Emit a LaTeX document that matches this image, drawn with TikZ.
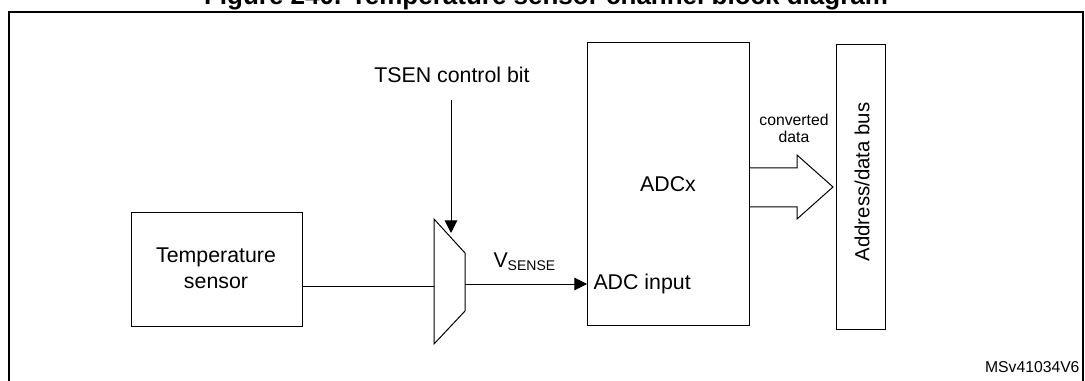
\documentclass[tikz,border=0pt]{standalone}
\usepackage{fontspec}
\setmainfont{Liberation Sans}
\usetikzlibrary{arrows.meta}
\begin{document}
\begin{tikzpicture}[x=0.75pt,y=-0.75pt,line width=0.75pt,
  blk/.style={draw,rectangle,inner sep=0pt,outer sep=0pt,anchor=north west},
  lbl/.style={font=\fontsize{16}{20}\selectfont,inner sep=0pt,align=center},
  small/.style={font=\fontsize{11.8}{14.3}\selectfont,inner sep=0pt,align=center},
  arr/.style={-{Triangle[length=9.5pt,width=9.5pt]}}]
\useasboundingbox (0,0) rectangle (1085,381);
% title (cut off at top) and frame
\node[font=\bfseries\fontsize{19.5}{22}\selectfont,anchor=base,inner sep=0pt] (title) at (546,5) {Figure 240. Temperature sensor channel block diagram};
\draw[line width=1.5pt] (9,420) -- (9,12) -- (1083,12) -- (1083,420);
% blocks
\node[blk,minimum width=128.25pt,minimum height=85.5pt] (ts) at (131,212) {};
\node[lbl] (tstext) at (216,268.5) {Temperature\\[-0.5pt]sensor};
\node[blk,minimum width=121.5pt,minimum height=211.5pt] (adc) at (587,43) {};
\node[lbl] (adcx) at (668,184) {ADCx};
\node[lbl,anchor=west] (adcinlbl) at (593,284) {ADC input};
\node[blk,minimum width=36.75pt,minimum height=213pt] (bus) at (836,45) {};
\node[lbl,rotate=90,font=\fontsize{15.3}{18}\selectfont] (bustext) at (862,182) {Address/data bus};
% multiplexer
\coordinate (m1) at (434,219);
\coordinate (m2) at (465,253);
\coordinate (m3) at (465,311);
\coordinate (m4) at (434,344);
\draw (m1) -- (m2) -- (m3) -- (m4) -- cycle;
% connectors
\coordinate (tsout) at (302,286);
\coordinate (muxin) at (434,286);
\draw (tsout) -- (muxin);
\coordinate (muxout) at (465,284);
\coordinate (adcin) at (587,284);
\draw[arr] (muxout) -- (adcin);
\node[lbl] (tsen) at (452,75) {TSEN control bit};
\coordinate (ctl) at (451,100);
\coordinate (ctltip) at (451,233);
\draw[arr] (ctl) -- (ctltip);
\node[lbl,anchor=base west] (vsense) at (493,267) {V\fontsize{10.5}{12}\selectfont\raisebox{-2.6pt}{SENSE}};
% big data arrow
\coordinate (a1) at (749,168);
\coordinate (a2) at (797,168);
\coordinate (a3) at (797,155);
\coordinate (a4) at (833,187);
\coordinate (a5) at (797,219);
\coordinate (a6) at (797,207);
\coordinate (a7) at (749,207);
\draw[line join=miter] (a1) -- (a2) -- (a3) -- (a4) -- (a5) -- (a6) -- (a7);
\node[small] (conv) at (794,128.5) {converted\\[-1pt]data};
\node[small,anchor=east] (ref) at (1080,367) {MSv41034V6};
\end{tikzpicture}
\end{document}
